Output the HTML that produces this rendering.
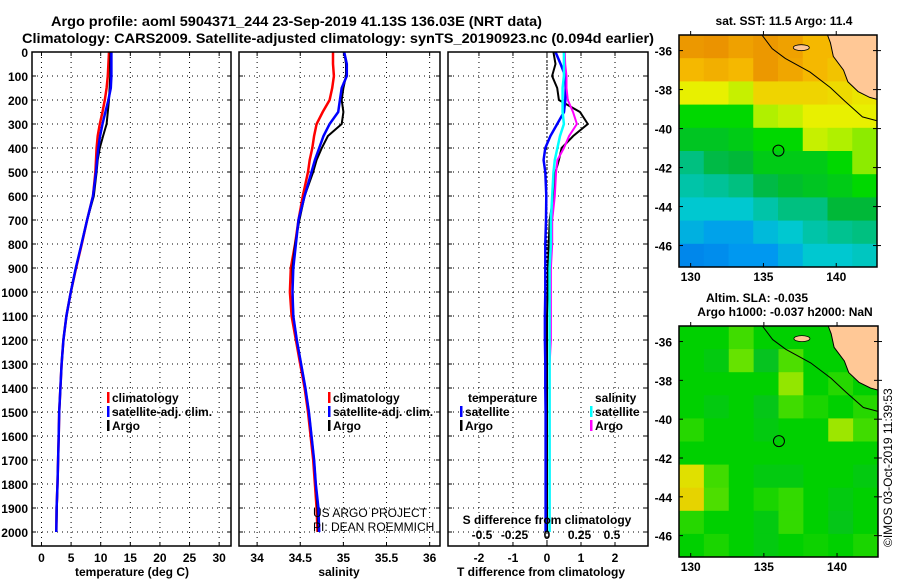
<!DOCTYPE html>
<html><head><meta charset="utf-8"><style>
html,body{margin:0;padding:0;background:#fff}
svg{display:block}
text{font-family:"Liberation Sans",sans-serif;fill:#000}
.b{font-weight:bold;font-size:12px}
.t{font-weight:bold;font-size:14px}
.lg{font-weight:bold;font-size:12px}
</style></head><body>
<svg id="fig" width="900" height="580" viewBox="0 0 900 580" xmlns="http://www.w3.org/2000/svg">
<text class="t" x="51" y="26" textLength="491" lengthAdjust="spacingAndGlyphs">Argo profile: aoml 5904371_244 23-Sep-2019 41.13S 136.03E (NRT data)</text>
<text class="t" x="22" y="43" textLength="632" lengthAdjust="spacingAndGlyphs">Climatology: CARS2009. Satellite-adjusted climatology: synTS_20190923.nc (0.094d earlier)</text>
<g id="plots"></g>
<text x="313" y="517" font-size="12" fill="#222">US ARGO PROJECT</text>
<text x="313" y="531" font-size="12" fill="#222">PI: DEAN ROEMMICH</text>
<text transform="translate(892,547) rotate(-90)" font-size="12">©IMOS 03-Oct-2019 11:39:53</text>
</svg>
<script>
// ---- profile data ----
const depths=[0,50,100,150,200,250,300,350,400,450,500,600,700,800,900,1000,1100,1200,1300,1400,1500,1600,1700,1800,1900,2000];
const tempArgo=[11.65,11.6,11.6,11.5,11.4,11.2,11.0,10.4,9.85,9.5,9.3,8.83,7.7,6.76,5.8,4.95,4.2,3.7,3.4,3.2,3.0,2.9,2.8,2.7,2.6,2.5];
const tempClim=[11.4,11.3,11.2,11.0,10.7,10.3,9.85,9.5,9.3,9.2,9.1,8.7,7.7,6.8,5.85,4.95,4.2,3.7,3.4,3.2,3.0,2.9,2.8,2.7,2.55,2.5];
const tempSat=[11.8,11.8,11.8,11.7,11.3,10.8,10.3,9.9,9.6,9.4,9.2,8.7,7.7,6.75,5.8,4.95,4.2,3.7,3.4,3.2,3.0,2.9,2.8,2.7,2.55,2.5];
const salArgo=[35.01,35.03,35.03,35.0,34.98,35.0,34.98,34.82,34.75,34.69,34.65,34.55,34.49,34.44,34.41,34.41,34.42,34.46,34.51,34.56,34.60,34.63,34.66,34.68,34.70,34.71];
const salClim=[34.88,34.88,34.89,34.87,34.84,34.76,34.69,34.66,34.64,34.61,34.59,34.53,34.48,34.44,34.39,34.38,34.40,34.45,34.50,34.55,34.59,34.62,34.65,34.67,34.69,34.70];
const salSat=[35.01,35.04,35.04,34.98,34.96,34.94,34.84,34.77,34.72,34.67,34.63,34.55,34.48,34.45,34.42,34.41,34.42,34.46,34.51,34.56,34.60,34.63,34.66,34.68,34.71,34.72];
const tDiffArgo=[0.19,0.25,0.15,0.3,0.35,0.97,1.2,0.77,0.43,0.35,0.25,0.19,0.08,0.05,0.03,0.02,0,0,0,0,0,0,0,0,0,0];
const tDiffSat=[0.25,0.4,0.54,0.55,0.54,0.5,0.3,0.1,-0.05,-0.1,-0.05,-0.02,-0.03,-0.05,-0.05,-0.05,-0.06,-0.06,-0.05,-0.05,-0.04,-0.04,-0.04,-0.04,-0.04,-0.04];
const sDiffArgo=[0.137,0.14,0.15,0.15,0.16,0.2,0.23,0.17,0.13,0.08,0.07,0.06,0.04,0.04,0.03,0.03,0.03,0.03,0.02,0.02,0.02,0.02,0.02,0.02,0.02,0.02];
const sDiffSat=[0.13,0.13,0.13,0.12,0.12,0.12,0.13,0.10,0.08,0.06,0.05,0.04,0.03,0.03,0.02,0.02,0.02,0.02,0.02,0.02,0.02,0.02,0.02,0.02,0.02,0.02];
const depthTicks=[0,100,200,300,400,500,600,700,800,900,1000,1100,1200,1300,1400,1500,1600,1700,1800,1900,2000];
const tempTicks=[0,5,10,15,20,25,30];
const salTicks=[34,34.5,35,35.5,36];
const salTickLabels=["34","34.5","35","35.5","36"];
const tdTicks=[-2,-1,0,1,2];
const sdTicks=[-0.5,-0.25,0,0.25,0.5];
const sdTickLabels=["-0.5","-0.25","0","0.25","0.5"];
// ---- map data (coarse grids, rows north->south, cols west->east) ----
const sstGrid=[
[0.3,0.2,0.5,0.3,0.5,1,1,1],
[1,0.8,1,0.3,0.6,1,1.2,1.5],
[2,2,2.3,1.5,1.5,1.5,1.6,1.8],
[3,3,3,2.5,2.3,2,2,2],
[3.3,3.3,3.2,3,3,2.3,2.5,2.6],
[4,3.6,3.5,3.2,3.2,3.2,3,2.6],
[4.5,4.3,4,3.6,3.4,3.3,3.2,3],
[5,5,5,4.5,4,4,3.5,3.5],
[5.5,5.8,5.8,5.3,5,4.5,4.2,4],
[6.3,6.2,6,6,5.5,5,5,4.8]];
const slaGrid=[
[1,1,1.5,1,1,1,1,1],
[1,0.8,1.8,0.6,1.6,1,1,1],
[1,1,1,1,2.2,1,1.3,1],
[1,0.8,1,0.7,1.5,1.2,1,1.3],
[1.3,1,1,0.8,1,1,2.3,1.5],
[1,1,1,1,1,1,1,1],
[3,1.5,1,0.8,0.8,1,1,0.8],
[3.4,1.6,1,1.2,1.4,1,0.8,1],
[1.3,1,1,0.8,1.4,1,0.7,1],
[1,1.2,1,0.8,1,1.1,1,1.2]];
const lonTicks=[130,135,140];
const latTicks=[-36,-38,-40,-42,-44,-46];
const argoLon=[136.03], argoLat=[-41.13];
const sstTitle="sat. SST: 11.5 Argo: 11.4";

const NS="http://www.w3.org/2000/svg";
const G=document.getElementById('plots');
function mk(tag,attrs,parent){const e=document.createElementNS(NS,tag);for(const k in attrs)e.setAttribute(k,attrs[k]);(parent||G).appendChild(e);return e;}
function txt(s,x,y,cls,anchor,parent){const e=mk('text',{x:x,y:y,'class':cls||'b','text-anchor':anchor||'start'},parent);e.textContent=s;return e;}

const pTop=52,pBot=546;
const yD=d=>pTop+d*0.24;
function panel(name,x0,x1,dmin,dmax,xt,xtl,showDepth){
  const g=mk('g',{});
  
  
  const sx=v=>x0+(v-dmin)/(dmax-dmin)*(x1-x0);
  depthTicks.forEach(d=>{const l=mk('line',{x1:x0,x2:x1,y1:yD(d),y2:yD(d),stroke:'#000','stroke-width':1,'stroke-dasharray':'1,4'},g);
    
    
    mk('line',{x1:x0,x2:x0+4,y1:yD(d),y2:yD(d),stroke:'#000'},g);mk('line',{x1:x1-4,x2:x1,y1:yD(d),y2:yD(d),stroke:'#000'},g);
    if(showDepth){const t=txt(String(d),28,yD(d)+5,'b','end',g);
      
      }
  });
  xt.forEach((v,i)=>{const l=mk('line',{x1:sx(v),x2:sx(v),y1:pTop,y2:pBot,stroke:'#000','stroke-dasharray':'1,4'},g);
    
    
    mk('line',{x1:sx(v),x2:sx(v),y1:pTop,y2:pTop+4,stroke:'#000'},g);mk('line',{x1:sx(v),x2:sx(v),y1:pBot-4,y2:pBot,stroke:'#000'},g);
    const t=txt(xtl[i],sx(v),562,'b','middle',g);
    
    
  });
  return {g,sx};
}
function line(g,sx,vals,color,name,w){
  const pts=vals.map((v,i)=>sx(v).toFixed(1)+','+yD(depths[i]).toFixed(1)).join(' ');
  const p=mk('polyline',{points:pts,fill:'none',stroke:color,'stroke-width':w||2},g);
  
  
}
function frame(g,x0,x1){const r=mk('rect',{x:x0,y:pTop,width:x1-x0,height:pBot-pTop,fill:'none',stroke:'#000','stroke-width':1.5},g);
  
  }
function legend(g,x,y,items){items.forEach((it,i)=>{
  const m=mk('rect',{x:x,y:y+i*14-10,width:2.5,height:11,fill:it.c},g);
  
  
  const t=txt(it.t,x+5,y+i*14,'lg','start',g);
  
  });}

// panel 1 temperature
let P=panel('temperature-panel',32,231,-1.6,32,tempTicks,tempTicks.map(String),true);
line(P.g,P.sx,tempClim,'#f00','temp-climatology-line',2.5);
line(P.g,P.sx,tempArgo,'#000','temp-argo-line',2);
line(P.g,P.sx,tempSat,'#00f','temp-satellite-line',2.5);
frame(P.g,32,231);
legend(P.g,107,402,[{t:'climatology',c:'#f00'},{t:'satellite-adj. clim.',c:'#00f'},{t:'Argo',c:'#000'}]);
let tt=txt('temperature (deg C)',132,576,'b','middle',P.g);


// panel 2 salinity
P=panel('salinity-panel',239,440,33.79,36.12,salTicks,salTickLabels,false);
line(P.g,P.sx,salClim,'#f00','sal-climatology-line',2.5);
line(P.g,P.sx,salArgo,'#000','sal-argo-line',2);
line(P.g,P.sx,salSat,'#00f','sal-satellite-line',2.5);
frame(P.g,239,440);
legend(P.g,328,402,[{t:'climatology',c:'#f00'},{t:'satellite-adj. clim.',c:'#00f'},{t:'Argo',c:'#000'}]);
tt=txt('salinity',339,576,'b','middle',P.g);


// panel 3 differences
P=panel('difference-panel',448,648,-2.91,2.97,tdTicks,tdTicks.map(String),false);
const sxS=v=>547+v*130;
mk('line',{x1:P.sx(0),x2:P.sx(0),y1:pTop,y2:pBot,stroke:'#000','stroke-dasharray':'2,2'},P.g);
line(P.g,P.sx,tDiffArgo,'#000','tdiff-argo-line',2);
line(P.g,P.sx,tDiffSat,'#00f','tdiff-satellite-line',2.5);
line(P.g,sxS,sDiffArgo,'#f0f','sdiff-argo-line',2);
line(P.g,sxS,sDiffSat,'#0ff','sdiff-satellite-line',2.5);
frame(P.g,448,648);
tt=txt('temperature',468,402,'lg','start',P.g);

tt=txt('salinity',595,402,'lg','start',P.g);

legend(P.g,460,416,[{t:'satellite',c:'#00f'},{t:'Argo',c:'#000'}]);
legend(P.g,590,416,[{t:'satellite',c:'#0ff'},{t:'Argo',c:'#f0f'}]);
tt=txt('S difference from climatology',547,524,'b','middle',P.g);

sdTicks.forEach((v,i)=>{const t=txt(sdTickLabels[i],sxS(v),539,'b','middle',P.g);
  
  });
tt=txt('T difference from climatology',541,576,'b','middle',P.g);


// ---- maps ----
function lerpC(stops,v){v=Math.max(stops[0][0],Math.min(stops[stops.length-1][0],v));
  for(let i=0;i<stops.length-1;i++){const a=stops[i],b=stops[i+1];if(v<=b[0]){const f=(v-a[0])/(b[0]-a[0]);
    const c=a[1].map((x,k)=>Math.round(x+(b[1][k]-x)*f));return 'rgb('+c.join(',')+')';}}
  return 'rgb(0,0,0)';}
const sstStops=[[0,[232,138,0]],[1,[245,184,0]],[2,[232,240,0]],[2.5,[176,240,0]],[3,[0,216,0]],[3.5,[0,184,56]],[4,[0,192,128]],[5,[0,200,208]],[6,[0,152,240]],[7,[0,96,224]]];
const slaStops=[[0,[16,176,80]],[1,[0,208,0]],[2,[128,232,0]],[3,[224,224,0]],[4,[240,192,0]]];
function map(name,x0,y0,x1,y1,grid,stops){
  const g=mk('g',{});
  
  
  const lonMin=129.2,lonMax=142.8,latMax=-35.2,latMin=-47.1;
  const sx=lo=>x0+(lo-lonMin)/(lonMax-lonMin)*(x1-x0);
  const sy=la=>y0+(latMax-la)/(latMax-latMin)*(y1-y0);
  const R=grid.length,C=grid[0].length,cw=(x1-x0)/C,ch=(y1-y0)/R;
  grid.forEach((row,r)=>row.forEach((v,c)=>{const e=mk('rect',{x:x0+c*cw,y:y0+r*ch,width:cw+0.5,height:ch+0.5,fill:lerpC(stops,v)},g);
    
    }));
  const land=[[139.4,-35.2],[139.6,-35.6],[139.8,-36.3],[140.5,-37.0],[140.8,-37.6],[141.5,-38.1],[142.3,-38.4],[142.8,-38.5],[142.8,-35.2]];
  const lp=mk('polygon',{points:land.map(p=>sx(p[0])+','+sy(p[1])).join(' '),fill:'#ffc896',stroke:'#000','stroke-width':1},g);
  
  
  const ki=mk('ellipse',{cx:sx(137.6),cy:sy(-35.85),rx:8,ry:3,fill:'#ffc896',stroke:'#000','stroke-width':0.8},g);
  
  
  const shelf=[[134.9,-35.2],[135.6,-35.9],[136.5,-36.4],[138.2,-37.1],[139.6,-37.9],[140.6,-38.6],[141.8,-39.4],[142.8,-39.6]];
  const sp=mk('polyline',{points:shelf.map(p=>sx(p[0])+','+sy(p[1])).join(' '),fill:'none',stroke:'#000','stroke-width':1},g);
  
  
  const ci=mk('circle',{cx:sx(argoLon[0]),cy:sy(argoLat[0]),r:5.5,fill:'none',stroke:'#000','stroke-width':1},g);
  
  
  mk('rect',{x:x0,y:y0,width:x1-x0,height:y1-y0,fill:'none',stroke:'#000','stroke-width':1.5},g);
  latTicks.forEach(la=>{mk('line',{x1:x0,x2:x0+4,y1:sy(la),y2:sy(la),stroke:'#000'},g);mk('line',{x1:x1-4,x2:x1+4,y1:sy(la),y2:sy(la),stroke:'#000'},g);
    const t=txt(String(la),x0-7,sy(la)+5,'b','end',g);
    
    });
  lonTicks.forEach(lo=>{mk('line',{x1:sx(lo),x2:sx(lo),y1:y1-4,y2:y1,stroke:'#000'},g);mk('line',{x1:sx(lo),x2:sx(lo),y1:y0-4,y2:y0,stroke:'#000'},g);
    const t=txt(String(lo),sx(lo),y1+14,'b','middle',g);
    
    });
  return g;
}
const m1=map('sst-map',679,35,877,267,sstGrid,sstStops);
tt=txt(sstTitle,784,25,'b','middle',m1);

const m2=map('sla-map',679,326,878,557,slaGrid,slaStops);
tt=txt('Altim. SLA: -0.035',757,302,'b','middle',m2);

tt=txt('Argo h1000: -0.037 h2000: NaN',785,316,'b','middle',m2);

</script>
</body></html>
